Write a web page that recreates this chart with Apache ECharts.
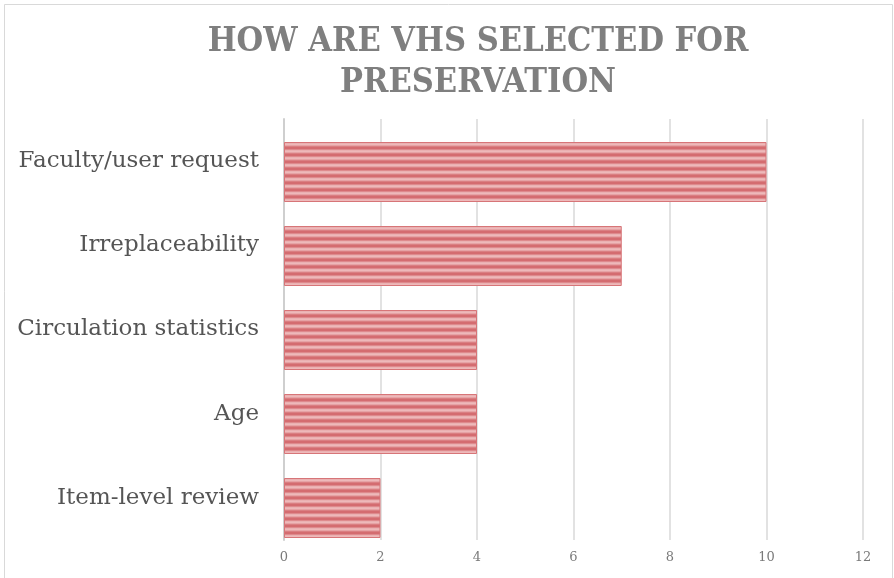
<!DOCTYPE html>
<html>
<head>
<meta charset="utf-8">
<script src="https://cdn.jsdelivr.net/npm/echarts@6/dist/echarts.min.js"></script>
<style>
html, body { margin: 0; padding: 0; background: #fff; }
#chart { width: 894px; height: 578px; }
</style>
</head>
<body>
<div id="chart"></div>
<script>
// categories bottom -> top (echarts category y axis)
var categories = ['Item-level review', 'Age', 'Circulation statistics', 'Irreplaceability', 'Faculty/user request'];
var counts = [2, 4, 4, 7, 10];
var xTicks = [0, 2, 4, 6, 8, 10, 12];

// striped fill like the original export
var stripeRows = ['#d46c70', '#d46c70', '#de8a8d', '#eab1b2', '#eeb9ba', '#e6a3a5', '#da7f82'];
var stripe = document.createElement('canvas');
stripe.width = 4;
stripe.height = stripeRows.length;
var sctx = stripe.getContext('2d');
stripeRows.forEach(function (c, i) {
    sctx.fillStyle = c;
    sctx.fillRect(0, i, 4, 1);
});

var chart = echarts.init(document.getElementById('chart'));
chart.setOption({
    backgroundColor: '#fff',
    animation: false,
    title: {
        text: 'HOW ARE VHS SELECTED FOR\nPRESERVATION',
        left: 473,
        textAlign: 'center',
        top: 17,
        textStyle: {
            fontFamily: '"DejaVu Serif Condensed", "DejaVu Serif", serif',
            fontWeight: 'bold',
            fontSize: 34,
            color: '#7f7f7f',
            lineHeight: 41
        }
    },
    graphic: [{
        type: 'rect',
        shape: { x: 4.5, y: 4.5, width: 888, height: 580 },
        style: { fill: null, stroke: '#d9d9d9', lineWidth: 1 },
        silent: true
    }],
    grid: [
        { left: 284, top: 119, width: 579, height: 421 },
        { left: 284, top: 130, width: 579, height: 420 }
    ],
    xAxis: [{
        gridIndex: 0,
        type: 'value',
        min: xTicks[0],
        max: xTicks[xTicks.length - 1],
        interval: 2,
        axisLine: { show: false },
        axisTick: { show: false },
        splitLine: { show: true, lineStyle: { color: '#d9d9d9', width: 1.5 } },
        axisLabel: {
            margin: 11,
            fontFamily: '"DejaVu Serif", serif',
            fontSize: 13,
            color: '#7a7a7a'
        }
    }, {
        gridIndex: 1,
        type: 'value',
        min: xTicks[0],
        max: xTicks[xTicks.length - 1],
        show: false
    }],
    yAxis: [{
        gridIndex: 0,
        type: 'category',
        data: categories,
        axisLine: { show: true, lineStyle: { color: '#cfcfcf', width: 2 } },
        axisTick: { show: false },
        axisLabel: {
            margin: 25,
            fontFamily: '"DejaVu Serif", serif',
            fontSize: 23,
            color: '#555555'
        }
    }, {
        gridIndex: 1,
        type: 'category',
        data: categories,
        show: false
    }],
    series: [{
        type: 'bar',
        xAxisIndex: 1,
        yAxisIndex: 1,
        data: counts,
        barWidth: 60,
        itemStyle: {
            color: { image: stripe, repeat: 'repeat' },
            borderColor: '#d77578',
            borderWidth: 1
        }
    }]
});
</script>
</body>
</html>
